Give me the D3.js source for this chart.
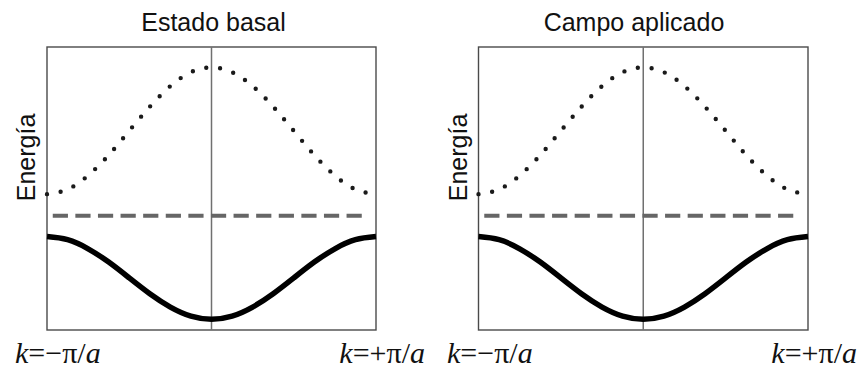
<!DOCTYPE html>
<html>
<head>
<meta charset="utf-8">
<script src="https://cdn.jsdelivr.net/npm/d3@7"></script>
<style>
  html, body { margin: 0; padding: 0; background: #fff; }
  svg { display: block; }
</style>
</head>
<body>
<svg id="chart" width="861" height="371"></svg>
<script>
// Wave vector in units of pi/a across the first Brillouin zone
const kValues = [-1, -0.875, -0.75, -0.625, -0.5, -0.375, -0.25, -0.125, 0,
                 0.125, 0.25, 0.375, 0.5, 0.625, 0.75, 0.875, 1];
// Lower (filled) band energy, arbitrary units
const lowerBand = [3.30, 3.19, 2.87, 2.40, 1.84, 1.28, 0.81, 0.49, 0.38,
                   0.49, 0.81, 1.28, 1.84, 2.40, 2.87, 3.19, 3.30];
// Upper (empty) band energy, arbitrary units
const upperBand = [4.80, 4.97, 5.46, 6.18, 7.04, 7.89, 8.62, 9.11, 9.28,
                   9.11, 8.62, 7.89, 7.04, 6.18, 5.46, 4.97, 4.80];
// Flat reference level (dashed)
const levelK = [-0.965, 0.917];
const levelE = [4.04, 4.04];

const panelTitles = ["Estado basal", "Campo aplicado"];
const yLabel = "Energía";
const kLeftLabel = ["k", "=\u2212\u03c0/", "a"];
const kRightLabel = ["k", "=+\u03c0/", "a"];

const panels = [
  { title: panelTitles[0], x0: 47, x1: 376, titleX: 213.5, yLabX: 34.5, kL: 15, kR: 425 },
  { title: panelTitles[1], x0: 478.5, x1: 808, titleX: 634, yLabX: 466.5, kL: 447, kR: 857 }
];

const frameTop = 47, frameBottom = 330;
const svg = d3.select("#chart");

panels.forEach(p => {
  const x = d3.scaleLinear().domain([-1, 1]).range([p.x0, p.x1]);
  const y = d3.scaleLinear().domain([0, 10]).range([frameBottom, frameTop]);
  const g = svg.append("g");

  // frame
  g.append("rect")
    .attr("x", x(-1)).attr("y", y(10))
    .attr("width", x(1) - x(-1)).attr("height", y(0) - y(10))
    .attr("fill", "none").attr("stroke", "#4a4a4a").attr("stroke-width", 1.4);

  // k = 0 line
  g.append("line")
    .attr("x1", x(0)).attr("x2", x(0))
    .attr("y1", y(10)).attr("y2", y(0))
    .attr("stroke", "#707070").attr("stroke-width", 1.5);

  const line = d3.line().curve(d3.curveNatural)
    .x(d => x(d[0])).y(d => y(d[1]));

  // upper band, dotted
  g.append("path")
    .attr("d", line(d3.zip(kValues, upperBand)))
    .attr("fill", "none").attr("stroke", "#1a1a1a")
    .attr("stroke-width", 4.4).attr("stroke-linecap", "round")
    .attr("stroke-dasharray", "0 13.9");

  // flat level, dashed
  g.append("path")
    .attr("d", d3.line().x(d => x(d[0])).y(d => y(d[1]))(d3.zip(levelK, levelE)))
    .attr("fill", "none").attr("stroke", "#666")
    .attr("stroke-width", 4).attr("stroke-dasharray", "15.2 7.4");

  // lower band, solid
  g.append("path")
    .attr("d", line(d3.zip(kValues, lowerBand)))
    .attr("fill", "none").attr("stroke", "#000")
    .attr("stroke-width", 5.5);

  // title
  g.append("text")
    .attr("x", p.titleX).attr("y", 30.5)
    .attr("text-anchor", "middle")
    .style("font-family", "'Liberation Sans', Arial, sans-serif")
    .style("font-size", "25px").attr("fill", "#111")
    .text(p.title);

  // y label
  g.append("text")
    .attr("transform", `translate(${p.yLabX},157.5) rotate(-90)`)
    .attr("text-anchor", "middle")
    .style("font-family", "'Liberation Sans', Arial, sans-serif")
    .style("font-size", "25px").attr("fill", "#111")
    .text(yLabel);

  // k labels
  const kLabel = (parts, xPos, anchor) => {
    const t = g.append("text")
      .attr("x", xPos).attr("y", 363)
      .attr("text-anchor", anchor)
      .style("font-family", "'Liberation Serif', 'Times New Roman', serif")
      .style("font-size", "30px").attr("fill", "#111");
    t.append("tspan").style("font-style", "italic").text(parts[0]);
    t.append("tspan").text(parts[1]);
    t.append("tspan").style("font-style", "italic").text(parts[2]);
  };
  kLabel(kLeftLabel, p.kL, "start");
  kLabel(kRightLabel, p.kR, "end");
});
</script>
</body>
</html>
